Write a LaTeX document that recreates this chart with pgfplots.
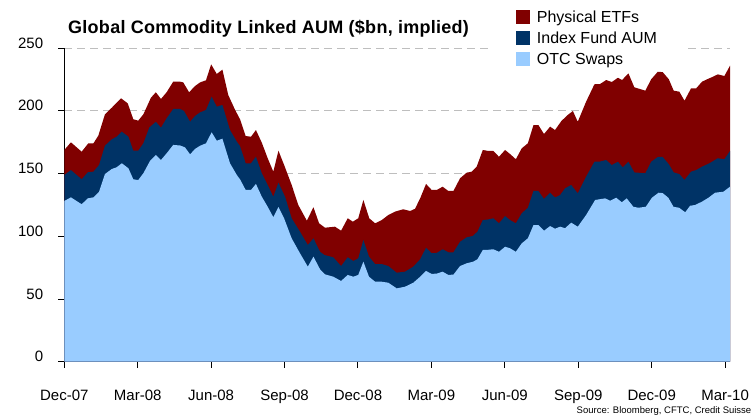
\documentclass[border=0pt]{standalone}
\usepackage{fontspec}
\setmainfont{Liberation Sans}
\newfontfamily\titlefont[LetterSpace=1.5]{Liberation Sans}
\usepackage{pgfplots}
\pgfplotsset{compat=1.18}
\definecolor{etf}{RGB}{128,0,0}
\definecolor{idx}{RGB}{0,51,102}
\definecolor{otc}{RGB}{153,204,255}
\definecolor{gridc}{RGB}{190,190,190}
\pgfplotsset{layers/mylayers/.define layer set={axis background,axis grid,pre main,main,axis ticks,axis lines,axis tick labels,axis descriptions,axis foreground}{}}
\begin{document}
\begin{tikzpicture}
\begin{axis}[
  set layers=mylayers,
  at={(64.3pt,54.3pt)}, anchor=south west,
  scale only axis, width=665.7pt, height=313.4pt,
  xmin=0, xmax=27.2, ymin=0, ymax=250,
  axis x line=bottom, axis y line=left,
  axis line style={-, black, line width=1pt},
  xtick={0,3,...,27},
  xticklabels={Dec-07,Mar-08,Jun-08,Sep-08,Dec-08,Mar-09,Jun-09,Sep-09,Dec-09,Mar-10},
  ytick={0,50,...,250},
  tick align=outside, major tick length=6pt,
  tick style={black, line width=1pt},
  ymajorgrids,
  grid style={gridc, line width=1pt, dash pattern=on 8pt off 5pt},
  /pgf/number format/assume math mode=true,
  ticklabel style={font=\fontsize{15}{15}\selectfont, inner sep=0pt},
  xticklabel style={anchor=base, yshift=-33pt},
  yticklabel style={anchor=base east, xshift=-15pt},
  legend cell align=left,
  legend image code/.code={\fill[#1] (0pt,-6pt) rectangle (14pt,7.7pt);},
  legend style={at={(rel axis cs:0.6365,1.1359)}, anchor=north west,
    draw=none, fill=white, inner xsep=28pt, inner ysep=4pt,
    font=\fontsize{16}{16}\selectfont, row sep=5.8pt,
    nodes={inner sep=0pt, text height=12pt, text depth=3pt},
    /tikz/every odd column/.style={column sep=6.7pt}},
]
\addplot[fill=etf, draw=none] coordinates {
(0,168.9) (0.27,175) (0.71,167.5) (0.98,174.2) (1.19,174.2) (1.39,180.3) (1.66,197.3) (1.94,202.6) (2.32,210.1) (2.59,206.1) (2.82,193.4) (3.02,192.3) (3.23,197.3) (3.54,210.6) (3.74,214.9) (3.95,209.6) (4.18,214.9) (4.45,223.4) (4.73,223.4) (4.86,222.8) (5.10,214.9) (5.34,219.9) (5.55,222.8) (5.79,224.5) (6.00,237.2) (6.23,229.5) (6.46,233.0) (6.70,212.7) (6.98,200.8) (7.18,193.4) (7.41,180.0) (7.63,179.5) (7.83,184.8) (8.07,174.7) (8.31,162.3) (8.54,151.6) (8.75,168.3) (8.98,157.0) (9.29,141.0) (9.56,125.0) (9.91,112.5) (10.18,123.2) (10.41,110.4) (10.65,106.9) (11.06,107.7) (11.31,104.5) (11.58,114.4) (11.79,111.7) (12.01,114.4) (12.22,129.0) (12.46,114.4) (12.70,110.4) (12.97,113.0) (13.24,117.0) (13.51,119.7) (13.85,121.6) (14.13,120.2) (14.33,122.0) (14.54,130.3) (14.78,141.8) (15.01,137.0) (15.22,137.0) (15.46,139.6) (15.69,136.2) (15.90,136.2) (16.17,146.3) (16.44,150.8) (16.65,151.6) (16.85,155.6) (17.10,168.9) (17.33,168.1) (17.53,168.1) (17.76,163.5) (18.01,168.9) (18.21,165.7) (18.45,161.5) (18.69,170.2) (18.94,174.2) (19.17,188.8) (19.37,188.8) (19.60,181.6) (19.85,187.5) (20.05,184.8) (20.31,192.0) (20.57,196.8) (20.78,200.0) (20.98,191.4) (21.32,207.4) (21.66,221.3) (21.89,221.5) (22.14,224.7) (22.37,223.1) (22.62,226.5) (22.79,224.7) (23.05,230.0) (23.29,218.9) (23.74,216.2) (23.98,225.3) (24.25,231.3) (24.45,231.0) (24.70,225.3) (24.90,216.2) (25.13,215.4) (25.34,208.2) (25.61,218.1) (25.82,218.1) (26.06,223.4) (26.29,225.5) (26.50,227.3) (26.70,229.2) (26.97,227.9) (27.20,236.1)
} \closedcycle;
\addlegendentry{Physical ETFs}
\addplot[fill=idx, draw=none] coordinates {
(0,148.9) (0.27,152.9) (0.71,145.5) (0.96,151.1) (1.19,151.6) (1.42,156.9) (1.66,172.3) (1.94,177.4) (2.14,179.5) (2.35,183.5) (2.62,179.5) (2.82,168.3) (3.02,168.3) (3.23,174.2) (3.47,186.7) (3.74,191.4) (3.95,186.7) (4.18,194.1) (4.45,201.6) (4.73,201.6) (4.89,200.0) (5.14,191.4) (5.34,196.0) (5.55,198.9) (5.79,200.8) (6.02,211.4) (6.23,203.4) (6.46,204.8) (6.77,184.8) (7.05,175.5) (7.18,172.0) (7.41,158.3) (7.63,158.3) (7.83,163.5) (8.07,150.3) (8.31,141.0) (8.54,131.6) (8.75,142.8) (9.02,131.6) (9.29,114.4) (9.63,103.7) (9.95,93.1) (10.18,98.4) (10.45,87.7) (10.63,85.1) (10.99,83.3) (11.31,76.3) (11.58,83.3) (11.81,80.3) (12.01,82.5) (12.22,97.1) (12.45,83.8) (12.70,77.9) (12.97,77.9) (13.24,76.3) (13.58,71.0) (13.92,71.8) (14.26,75.8) (14.54,81.7) (14.78,90.9) (15.01,86.5) (15.22,86.8) (15.46,89.7) (15.69,87.3) (15.90,87.3) (16.17,95.7) (16.44,99.2) (16.69,100.3) (16.88,103.7) (17.10,113.0) (17.33,113.5) (17.53,114.4) (17.76,110.4) (18.01,116.2) (18.21,113.0) (18.45,110.4) (18.69,118.4) (18.94,122.8) (19.17,136.2) (19.37,136.2) (19.60,129.8) (19.85,134.8) (20.05,131.0) (20.26,133.0) (20.46,138.3) (20.71,141.0) (20.98,134.3) (21.32,147.6) (21.66,159.5) (21.89,159.7) (22.14,160.9) (22.37,156.9) (22.62,159.5) (22.82,155.0) (23.05,159.5) (23.29,151.0) (23.74,150.3) (23.98,159.5) (24.25,163.3) (24.45,163.3) (24.70,157.5) (24.90,151.0) (25.13,149.7) (25.34,145.0) (25.61,151.6) (25.82,152.9) (26.06,155.6) (26.36,158.3) (26.70,162.3) (26.97,161.5) (27.20,168.1)
} \closedcycle;
\addlegendentry{Index Fund AUM}
\addplot[fill=otc, draw=none] coordinates {
(0,128.2) (0.27,131.1) (0.71,125.6) (0.96,130.3) (1.19,131.1) (1.42,135.6) (1.66,149.7) (1.94,153.7) (2.14,155.1) (2.35,158.3) (2.62,154.3) (2.82,145.5) (3.02,144.9) (3.23,150.3) (3.50,160.1) (3.74,164.9) (3.95,160.9) (4.18,166.2) (4.45,172.9) (4.73,172.5) (4.93,171.0) (5.14,165.4) (5.34,169.7) (5.55,172.3) (5.79,174.2) (6.02,183.0) (6.23,176.3) (6.46,177.9) (6.77,158.3) (7.05,148.9) (7.18,145.5) (7.41,137.0) (7.63,137.0) (7.83,141.8) (8.07,131.6) (8.31,123.6) (8.54,115.3) (8.75,123.4) (8.98,114.4) (9.29,98.4) (9.63,86.5) (9.95,75.8) (10.18,83.8) (10.45,73.7) (10.65,69.7) (10.99,67.8) (11.31,64.4) (11.58,69.2) (11.81,67.8) (12.01,69.2) (12.22,79.8) (12.45,67.8) (12.70,63.8) (12.97,63.8) (13.24,63.0) (13.58,58.5) (13.92,59.8) (14.26,63.0) (14.54,67.8) (14.78,72.4) (15.01,70.0) (15.22,70.3) (15.46,71.8) (15.69,69.2) (15.90,69.5) (16.17,76.3) (16.44,78.5) (16.71,79.8) (16.88,81.7) (17.10,89.1) (17.33,89.3) (17.53,89.7) (17.76,87.7) (18.01,91.7) (18.21,90.5) (18.45,87.7) (18.69,94.4) (18.94,98.4) (19.17,109.0) (19.37,109.0) (19.60,104.5) (19.85,108.2) (20.05,106.1) (20.26,107.7) (20.46,106.5) (20.71,110.9) (20.98,107.7) (21.32,117.0) (21.69,129.0) (22.10,130.3) (22.30,128.4) (22.55,130.8) (22.78,127.2) (22.98,130.3) (23.25,123.6) (23.46,122.8) (23.76,123.6) (24.01,130.8) (24.28,134.8) (24.45,134.5) (24.68,130.8) (24.89,123.6) (25.12,122.8) (25.37,119.2) (25.57,124.4) (25.77,125.0) (26.05,127.6) (26.32,130.8) (26.59,134.8) (26.93,135.6) (27.20,139.6)
} \closedcycle;
\addlegendentry{OTC Swaps}
\end{axis}
\node[anchor=base west, font=\titlefont\bfseries\fontsize{18}{18}\selectfont, inner sep=0pt] at (68pt,382.7pt) {Global Commodity Linked AUM (\$bn, implied)};
\node[anchor=base east, font=\fontsize{9.5}{9.5}\selectfont, inner sep=0pt] at (751.5pt,2.3pt) {Source: Bloomberg, CFTC, Credit Suisse};
\pgfresetboundingbox
\path[use as bounding box] (0pt,0pt) rectangle (752pt,416pt);
\end{tikzpicture}
\end{document}
